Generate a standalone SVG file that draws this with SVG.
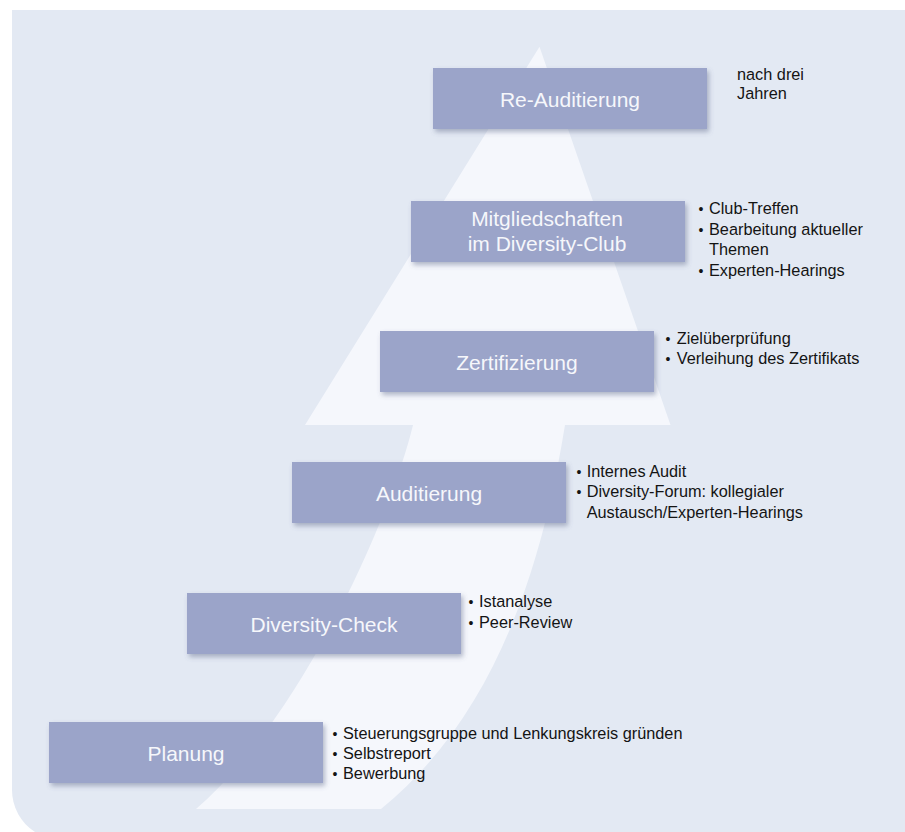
<svg xmlns="http://www.w3.org/2000/svg" width="905" height="832" viewBox="0 0 905 832">
<defs>
<filter id="sh" x="-10%" y="-20%" width="125%" height="150%">
<feDropShadow dx="2" dy="3" stdDeviation="2.5" flood-color="#5c6688" flood-opacity="0.45"/>
</filter>
<style>
.box{fill:#9ba4c9;filter:url(#sh)}
.lbl{font-family:"Liberation Sans",Arial,sans-serif;font-size:21px;fill:#f6f7fb;text-anchor:middle}
.t{font-family:"Liberation Sans",Arial,sans-serif;font-size:16.3px;fill:#141414}
.b{font-family:"Liberation Sans",Arial,sans-serif;font-size:14px;fill:#141414;text-anchor:middle}
</style>
</defs>
<rect width="905" height="832" fill="#ffffff"/>
<path d="M12 10 H905 V832 H35 A50 50 0 0 1 12 790 Z" fill="#e3e9f3"/>
<path id="arrow" d="M539.5 46.7 L670.5 425 L565 425 C540 580 490 720 381 809 L196 809 C300 720 390 520 413 425 L305 425 Z" fill="#f5f7fc"/>
<g id="connectors"></g>
<g id="n-reaudit">
<rect class="box" x="433" y="68" width="274" height="61"/>
<text class="lbl" x="570" y="106.5">Re-Auditierung</text>
<text class="t" x="737" y="79.5">nach drei</text>
<text class="t" x="737" y="99">Jahren</text>
</g>
<g id="n-mitglied">
<rect class="box" x="411" y="201" width="274" height="61"/>
<text class="lbl" x="547" y="225.7">Mitgliedschaften</text>
<text class="lbl" x="547" y="251">im Diversity-Club</text>
<text class="b" x="701" y="213.7">•</text><text class="t" x="709" y="213.7">Club-Treffen</text>
<text class="b" x="701" y="234.5">•</text><text class="t" x="709" y="234.5">Bearbeitung aktueller</text>
<text class="t" x="709" y="255">Themen</text>
<text class="b" x="701" y="275.7">•</text><text class="t" x="709" y="275.7">Experten-Hearings</text>
</g>
<g id="n-zert">
<rect class="box" x="380" y="331" width="274" height="61"/>
<text class="lbl" x="517" y="369.5">Zertifizierung</text>
<text class="b" x="668" y="344.3">•</text><text class="t" x="676.7" y="344.3">Zielüberprüfung</text>
<text class="b" x="668" y="364.3">•</text><text class="t" x="676.7" y="364.3">Verleihung des Zertifikats</text>
</g>
<g id="n-audit">
<rect class="box" x="292" y="462" width="274" height="61"/>
<text class="lbl" x="429" y="500.5">Auditierung</text>
<text class="b" x="579" y="476.7">•</text><text class="t" x="586.7" y="476.7">Internes Audit</text>
<text class="b" x="579" y="497">•</text><text class="t" x="586.7" y="497">Diversity-Forum: kollegialer</text>
<text class="t" x="586.7" y="517.5">Austausch/Experten-Hearings</text>
</g>
<g id="n-check">
<rect class="box" x="187" y="593" width="274" height="61"/>
<text class="lbl" x="324" y="631.5">Diversity-Check</text>
<text class="b" x="471" y="607.3">•</text><text class="t" x="479" y="607.3">Istanalyse</text>
<text class="b" x="471" y="628.3">•</text><text class="t" x="479" y="628.3">Peer-Review</text>
</g>
<g id="n-planung">
<rect class="box" x="49" y="722" width="274" height="61"/>
<text class="lbl" x="186" y="760.5">Planung</text>
<text class="b" x="335" y="738.7">•</text><text class="t" x="343" y="738.7">Steuerungsgruppe und Lenkungskreis gründen</text>
<text class="b" x="335" y="759">•</text><text class="t" x="343" y="759">Selbstreport</text>
<text class="b" x="335" y="778.7">•</text><text class="t" x="343" y="778.7">Bewerbung</text>
</g>
</svg>
